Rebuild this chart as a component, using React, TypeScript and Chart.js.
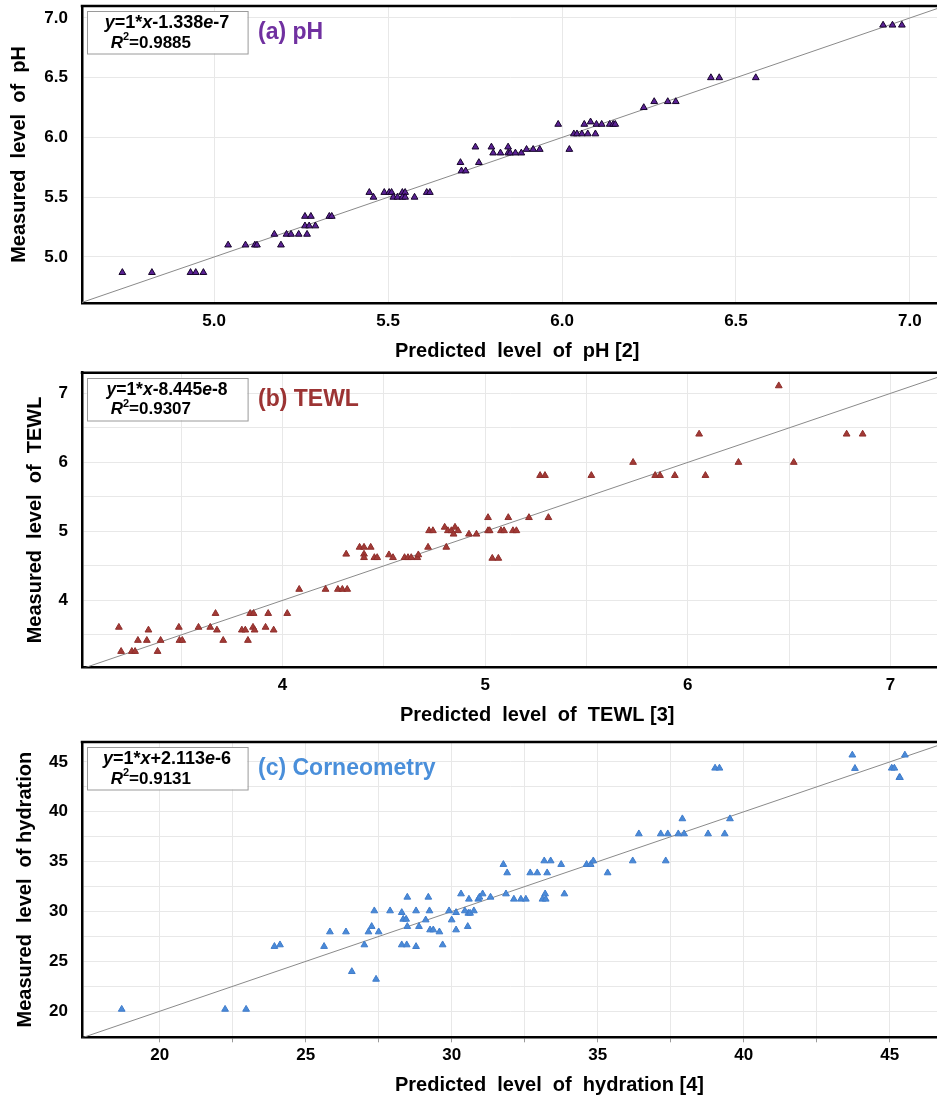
import { useEffect, useRef } from 'react';
import { Chart, registerables } from 'chart.js';

Chart.register(...registerables);

const FONT = "'Liberation Sans', Arial, Helvetica, sans-serif";

// ---------- (a) pH ----------
const phPredicted = [
  4.736, 4.821, 4.932, 4.947, 4.969, 5.04, 5.09, 5.117, 5.123, 5.173, 5.192, 5.208, 5.221, 5.243,
  5.261, 5.278, 5.261, 5.273, 5.291, 5.267, 5.331, 5.338, 5.446, 5.458, 5.489, 5.503, 5.51, 5.515,
  5.527, 5.541, 5.549, 5.541, 5.549, 5.576, 5.611, 5.62, 5.708, 5.711, 5.723, 5.751, 5.761, 5.797,
  5.802, 5.823, 5.845, 5.845, 5.851, 5.866, 5.883, 5.898, 5.917, 5.936, 5.989, 6.021, 6.034, 6.043,
  6.057, 6.074, 6.064, 6.082, 6.096, 6.099, 6.114, 6.137, 6.147, 6.153, 6.235, 6.265, 6.304, 6.327,
  6.428, 6.452, 6.557, 6.923, 6.95, 6.977,
];
const phMeasured = [
  4.87, 4.87, 4.87, 4.87, 4.87, 5.1, 5.1, 5.1, 5.1, 5.19, 5.1, 5.19, 5.19, 5.19,
  5.34, 5.34, 5.26, 5.26, 5.26, 5.19, 5.34, 5.34, 5.54, 5.5, 5.54, 5.54, 5.54, 5.5,
  5.5, 5.54, 5.54, 5.5, 5.5, 5.5, 5.54, 5.54, 5.79, 5.72, 5.72, 5.92, 5.79, 5.92,
  5.87, 5.87, 5.92, 5.87, 5.87, 5.87, 5.87, 5.9, 5.9, 5.9, 6.11, 5.9, 6.03, 6.03,
  6.03, 6.03, 6.11, 6.13, 6.03, 6.11, 6.11, 6.11, 6.11, 6.11, 6.25, 6.3, 6.3, 6.3,
  6.5, 6.5, 6.5, 6.94, 6.94, 6.94,
];
const phSlope = 1;
const phIntercept = -1.338e-7;
const phR2 = '0.9885';
const phGrid = [5.0, 5.5, 6.0, 6.5, 7.0];
const phTickLabels = [5.0, 5.5, 6.0, 6.5, 7.0];

// ---------- (b) TEWL ----------
const tewlPredicted = [
  3.192, 3.203, 3.256, 3.272, 3.286, 3.33, 3.338, 3.383, 3.398, 3.488, 3.491, 3.505, 3.585, 3.643,
  3.669, 3.676, 3.707, 3.799, 3.816, 3.829, 3.84, 3.857, 3.854, 3.862, 3.916, 3.929, 3.956, 4.023,
  4.082, 4.212, 4.273, 4.295, 4.319, 4.314, 4.38, 4.402, 4.435, 4.402, 4.402, 4.453, 4.467, 4.525,
  4.545, 4.602, 4.619, 4.635, 4.665, 4.67, 4.718, 4.723, 4.742, 4.8, 4.808, 4.816, 4.833, 4.844,
  4.851, 4.866, 4.92, 4.957, 5.014, 5.014, 5.022, 5.035, 5.065, 5.078, 5.093, 5.114, 5.137, 5.154,
  5.216, 5.271, 5.295, 5.312, 5.524, 5.73, 5.839, 5.863, 5.936, 6.056, 6.087, 6.25, 6.449, 6.523,
  6.784, 6.863,
];
const tewlMeasured = [
  3.61, 3.26, 3.26, 3.26, 3.42, 3.42, 3.57, 3.26, 3.42, 3.61, 3.42, 3.42, 3.61, 3.61,
  3.81, 3.57, 3.42, 3.57, 3.57, 3.42, 3.81, 3.81, 3.61, 3.57, 3.61, 3.81, 3.57, 3.81,
  4.16, 4.16, 4.16, 4.16, 4.16, 4.67, 4.77, 4.77, 4.77, 4.67, 4.62, 4.62, 4.62, 4.66,
  4.62, 4.62, 4.62, 4.62, 4.62, 4.66, 4.77, 5.01, 5.01, 5.06, 4.77, 5.01, 5.01, 4.96,
  5.06, 5.01, 4.96, 4.96, 5.2, 5.01, 5.01, 4.61, 4.61, 5.01, 5.01, 5.2, 5.01, 5.01,
  5.2, 5.81, 5.81, 5.2, 5.81, 6.0, 5.81, 5.81, 5.81, 6.41, 5.81, 6.0, 7.11, 6.0,
  6.41, 6.41,
];
const tewlSlope = 1;
const tewlIntercept = -8.445e-8;
const tewlR2 = '0.9307';
const tewlGrid = [3.5, 4, 4.5, 5, 5.5, 6, 6.5, 7];
const tewlTickLabels = [4, 5, 6, 7];

// ---------- (c) Corneometry ----------
const hydrationPredicted = [
  18.7, 22.24, 22.96, 23.93, 24.12, 25.63, 25.83, 26.38, 26.58, 27.01, 27.15, 27.26, 27.35, 27.41,
  27.5, 27.89, 28.29, 28.29, 28.46, 28.34, 28.44, 28.48, 28.48, 28.78, 28.78, 28.88, 29.11, 29.2,
  29.24, 29.26, 29.37, 29.58, 29.69, 29.91, 30.0, 30.15, 30.15, 30.32, 30.55, 30.57, 30.59, 30.45,
  30.63, 30.76, 30.91, 30.95, 31.06, 31.33, 31.77, 31.86, 31.9, 32.13, 32.37, 32.54, 32.69, 32.93,
  33.11, 33.17, 33.2, 33.22, 33.27, 33.39, 33.75, 33.86, 34.62, 34.76, 34.85, 35.34, 36.2, 36.41,
  37.16, 37.33, 37.4, 37.76, 37.96, 37.9, 38.78, 39.02, 39.17, 39.35, 39.53, 43.72, 43.81, 45.07,
  45.16, 45.33, 45.35, 45.52,
];
const hydrationMeasured = [
  20.2, 20.2, 20.2, 26.5, 26.66, 26.5, 27.96, 27.96, 23.98, 26.66, 27.96, 28.5, 30.07, 23.21,
  27.96, 30.07, 29.9, 26.66, 26.66, 29.23, 29.23, 31.44, 28.5, 30.07, 26.49, 28.5, 29.16, 31.44,
  30.07, 28.16, 28.16, 27.96, 26.66, 30.07, 29.16, 29.9, 28.16, 31.77, 28.5, 29.83, 31.24, 30.07,
  29.83, 30.07, 31.24, 31.44, 31.77, 31.44, 34.72, 31.77, 33.88, 31.24, 31.24, 31.24, 33.88, 33.88,
  31.24, 35.08, 31.77, 31.24, 33.88, 35.08, 34.72, 31.77, 34.72, 34.72, 35.08, 33.88, 35.08, 37.79,
  37.79, 35.08, 37.79, 37.79, 37.79, 39.3, 37.79, 44.38, 44.38, 37.79, 39.3, 45.69, 44.35, 44.38,
  44.38, 43.44, 43.44, 45.69,
];
const hydrationSlope = 1;
const hydrationIntercept = 2.113e-6;
const hydrationR2 = '0.9131';
const hydrationGrid = [20, 22.5, 25, 27.5, 30, 32.5, 35, 37.5, 40, 42.5, 45];
const hydrationTickLabels = [20, 25, 30, 35, 40, 45];

type PanelCfg = {
  top: number;
  height: number;
  padTop: number;
  xAxisH: number;
  xMin: number;
  xMax: number;
  yMin: number;
  yMax: number;
  grid: number[];
  labels: number[];
  decimals: number;
  tickLen: number;
  pred: number[];
  meas: number[];
  slope: number;
  intercept: number;
  r2: string;
  eqSize: number;
  title: string;
  titleColor: string;
  fill: string;
  stroke: string;
  xTitle: string;
  xTitleX: number;
  yTitle: string;
  yTitlePad: number;
};

const panels: PanelCfg[] = [
  {
    top: 0, height: 365, padTop: 6, xAxisH: 62,
    xMin: 4.62, xMax: 7.078, yMin: 4.615, yMax: 7.1,
    grid: phGrid, labels: phTickLabels, decimals: 1, tickLen: 0,
    pred: phPredicted, meas: phMeasured, slope: phSlope, intercept: phIntercept, r2: phR2, eqSize: 18,
    title: '(a) pH', titleColor: '#7030a0', fill: '#5b2196', stroke: '#16042a',
    xTitle: 'Predicted  level  of  pH [2]', xTitleX: 395,
    yTitle: 'Measured  level  of  pH', yTitlePad: 7,
  },
  {
    top: 365, height: 367, padTop: 7.7, xAxisH: 64.7,
    xMin: 3.01, xMax: 7.23, yMin: 3.03, yMax: 7.3,
    grid: tewlGrid, labels: tewlTickLabels, decimals: 0, tickLen: 0,
    pred: tewlPredicted, meas: tewlMeasured, slope: tewlSlope, intercept: tewlIntercept, r2: tewlR2, eqSize: 17.5,
    title: '(b) TEWL', titleColor: '#9c3434', fill: '#a23a36', stroke: '#8e2e2b',
    xTitle: 'Predicted  level  of  TEWL [3]', xTitleX: 400,
    yTitle: 'Measured  level  of  TEWL', yTitlePad: 23,
  },
  {
    top: 732, height: 368, padTop: 10, xAxisH: 62.7,
    xMin: 17.34, xMax: 46.62, yMin: 17.39, yMax: 47.0,
    grid: hydrationGrid, labels: hydrationTickLabels, decimals: 0, tickLen: 5,
    pred: hydrationPredicted, meas: hydrationMeasured, slope: hydrationSlope, intercept: hydrationIntercept, r2: hydrationR2, eqSize: 18,
    title: '(c) Corneometry', titleColor: '#4a8fda', fill: '#4a8ad8', stroke: '#3f7ccb',
    xTitle: 'Predicted  level  of  hydration [4]', xTitleX: 395,
    yTitle: 'Measured  level  of hydration', yTitlePad: 13,
  },
];

type Part = { t: string; i?: boolean; sup?: boolean };

function fontFor(p: Part, size: number) {
  return `${p.i ? 'italic ' : ''}bold ${p.sup ? Math.round(size * 0.65) : size}px ${FONT}`;
}

function drawParts(ctx: CanvasRenderingContext2D, parts: Part[], x: number, y: number, size: number) {
  let cx = x;
  for (const p of parts) {
    ctx.font = fontFor(p, size);
    ctx.fillText(p.t, cx, p.sup ? y - size * 0.35 : y);
    cx += ctx.measureText(p.t).width;
  }
}

function measureParts(ctx: CanvasRenderingContext2D, parts: Part[], size: number) {
  let w = 0;
  for (const p of parts) {
    ctx.font = fontFor(p, size);
    w += ctx.measureText(p.t).width;
  }
  return w;
}

function equationParts(slope: number, intercept: number): Part[] {
  const [mant, exp] = Math.abs(intercept).toExponential(3).split('e');
  const sign = intercept < 0 ? '-' : '+';
  return [
    { t: 'y', i: true },
    { t: `=${slope}*` },
    { t: 'x', i: true },
    { t: `${sign}${mant}` },
    { t: 'e', i: true },
    { t: String(Number(exp)) },
  ];
}

function Panel({ cfg }: { cfg: PanelCfg }) {
  const ref = useRef<HTMLCanvasElement>(null);

  useEffect(() => {
    const c = cfg;
    if (!ref.current) return;
    const points = c.pred.map((x, i) => ({ x, y: c.meas[i] }));
    const fitLine = [c.xMin, c.xMax].map((x) => ({ x, y: c.slope * x + c.intercept }));
    const tickFont = { family: FONT, size: 17, weight: 'bold' as const };
    const isLabel = (v: number) => c.labels.some((l) => Math.abs(l - v) < 1e-9);
    const fmt = (v: number) => (isLabel(v) ? v.toFixed(c.decimals) : '');

    const decor = {
      id: 'decor',
      afterDraw(chart: any) {
        const { ctx, chartArea: a } = chart;
        ctx.save();
        // top frame line
        ctx.strokeStyle = '#000';
        ctx.lineWidth = 2.5;
        ctx.beginPath();
        ctx.moveTo(a.left - 1.25, a.top);
        ctx.lineTo(chart.width, a.top);
        ctx.stroke();

        // equation box
        const bx = a.left + 4.7;
        const by = a.top + 5;
        const bw = 160.6;
        const bh = 42.5;
        ctx.fillStyle = '#fff';
        ctx.fillRect(bx, by, bw, bh);
        ctx.strokeStyle = '#9a9a9a';
        ctx.lineWidth = 1;
        ctx.strokeRect(Math.round(bx) + 0.5, Math.round(by) + 0.5, bw, bh);
        ctx.fillStyle = '#000';
        ctx.textBaseline = 'middle';
        ctx.textAlign = 'left';
        const eq = equationParts(c.slope, c.intercept);
        const w1 = measureParts(ctx, eq, c.eqSize);
        drawParts(ctx, eq, bx + bw / 2 - w1 / 2, a.top + 17, c.eqSize);
        drawParts(ctx, [{ t: 'R', i: true }, { t: '2', sup: true }, { t: `=${c.r2}` }], bx + 24, a.top + 37, 17);

        // panel title
        ctx.fillStyle = c.titleColor;
        ctx.font = `bold 23px ${FONT}`;
        ctx.fillText(c.title, a.left + 176, a.top + 27);

        // x axis title
        ctx.fillStyle = '#000';
        ctx.font = `bold 20px ${FONT}`;
        ctx.fillText(c.xTitle, c.xTitleX, a.bottom + 48);
        ctx.restore();
      },
    };

    const chart = new Chart(ref.current, {
      type: 'scatter',
      data: {
        datasets: [
          {
            data: points,
            pointStyle: 'triangle',
            pointRadius: 3.9,
            pointBackgroundColor: c.fill,
            pointBorderColor: c.stroke,
            pointBorderWidth: 1,
          },
          {
            data: fitLine,
            showLine: true,
            borderColor: '#8a8a8a',
            borderWidth: 1,
            pointRadius: 0,
          },
        ],
      },
      options: {
        animation: false,
        responsive: false,
        devicePixelRatio: 1,
        events: [],
        layout: { autoPadding: false, padding: { top: c.padTop, left: 0, right: 0, bottom: 0 } },
        plugins: { legend: { display: false }, tooltip: { enabled: false } },
        scales: {
          x: {
            type: 'linear',
            min: c.xMin,
            max: c.xMax,
            afterBuildTicks: (s: any) => {
              s.ticks = c.grid.map((v) => ({ value: v }));
            },
            afterFit: (s: any) => {
              s.height = c.xAxisH;
              s.paddingLeft = 0;
              s.paddingRight = 0;
              s.paddingTop = 0;
              s.paddingBottom = 0;
            },
            grid: {
              color: '#e8e8e8',
              lineWidth: 1,
              drawTicks: c.tickLen > 0,
              tickLength: c.tickLen,
              tickColor: '#9a9a9a',
            },
            border: { display: true, color: '#000', width: 2.5 },
            ticks: {
              font: tickFont,
              color: '#000',
              padding: 8 - c.tickLen,
              maxRotation: 0,
              autoSkip: false,
              callback: (v: any) => fmt(Number(v)),
            },
          },
          y: {
            type: 'linear',
            min: c.yMin,
            max: c.yMax,
            afterBuildTicks: (s: any) => {
              s.ticks = c.grid.map((v) => ({ value: v }));
            },
            afterFit: (s: any) => {
              s.width = 82;
              s.paddingLeft = 0;
              s.paddingRight = 0;
              s.paddingTop = 0;
              s.paddingBottom = 0;
            },
            grid: { color: '#e8e8e8', lineWidth: 1, drawTicks: false },
            border: { display: true, color: '#000', width: 2.5 },
            ticks: {
              font: tickFont,
              color: '#000',
              padding: 14,
              autoSkip: false,
              callback: (v: any) => fmt(Number(v)),
            },
            title: {
              display: true,
              text: c.yTitle,
              color: '#000',
              font: { family: FONT, size: 20, weight: 'bold' },
              padding: { top: c.yTitlePad, bottom: 0 },
            },
          },
        },
      },
      plugins: [decor],
    });
    return () => chart.destroy();
  }, [cfg]);

  return (
    <div style={{ position: 'absolute', left: 0, top: cfg.top, width: 937, height: cfg.height }}>
      <canvas ref={ref} width={937} height={cfg.height} style={{ display: 'block' }} />
    </div>
  );
}

export default function App() {
  return (
    <div
      style={{
        position: 'absolute',
        left: 0,
        top: 0,
        width: 937,
        height: 1100,
        background: '#fff',
        overflow: 'hidden',
      }}
    >
      {panels.map((p, i) => (
        <Panel key={i} cfg={p} />
      ))}
    </div>
  );
}
